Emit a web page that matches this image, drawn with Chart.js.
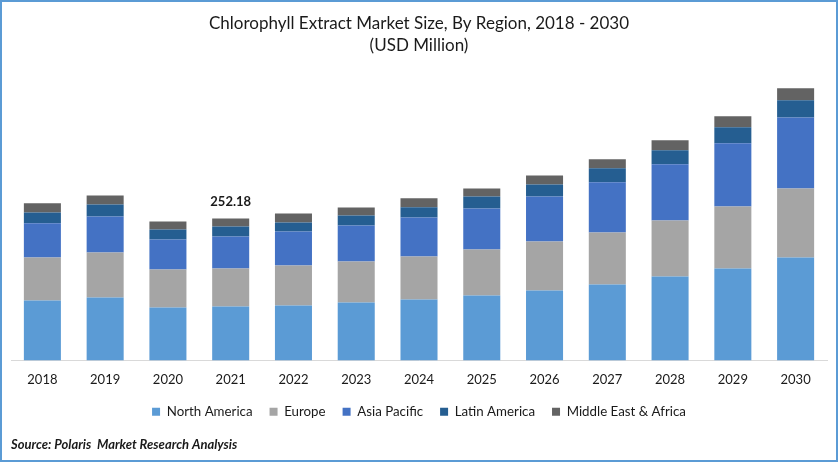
<!DOCTYPE html>
<html>
<head>
<meta charset="utf-8">
<title>Chlorophyll Extract Market Size</title>
<script src="https://cdn.jsdelivr.net/npm/chart.js@4"></script>
<style>
    body { margin: 0; background: #fff; }
    #quadro { width: 834px; height: 458px; border: 2px solid #5b9bd5; }
    canvas { display: block; }
</style>
</head>
<body>
<div id="quadro"><canvas id="grafico" width="834" height="458"></canvas></div>
<script>
const anos = ['2018', '2019', '2020', '2021', '2022', '2023', '2024', '2025', '2026', '2027', '2028', '2029', '2030'];
const northAmerica = [106.6, 111.9, 94.1, 95.9, 97.7, 103.0, 108.3, 115.4, 124.3, 135.0, 149.2, 163.4, 182.9];
const europe = [76.4, 79.9, 67.5, 67.5, 71.0, 72.8, 76.4, 81.7, 87.0, 92.4, 99.5, 110.1, 122.5];
const asiaPacific = [60.4, 63.9, 53.3, 56.8, 60.4, 63.9, 69.3, 72.8, 79.9, 88.8, 99.5, 111.9, 126.1];
const latinAmerica = [19.5, 21.3, 17.8, 17.8, 16.0, 17.8, 17.8, 21.3, 21.3, 24.9, 24.9, 28.4, 30.2];
const middleEast = [16.0, 16.0, 14.2, 14.18, 16.0, 14.2, 16.0, 14.2, 16.0, 16.0, 17.8, 19.5, 21.3];
const rotuloTotal = '252.18';
const anoRotulo = '2021';

const fonte = 'Lato';
const corTexto = '#1a1a1a';

function serie(label, data, cor) {
    return { label, data, backgroundColor: cor, barPercentage: 0.59, categoryPercentage: 1 };
}

// escreve o total em cima da barra de 2021
const rotuloBarra = {
    id: 'rotuloBarra',
    afterDatasetsDraw(chart) {
        const i = anos.indexOf(anoRotulo);
        const topo = chart.getDatasetMeta(chart.data.datasets.length - 1).data[i];
        const ctx = chart.ctx;
        ctx.save();
        ctx.font = `bold 13px ${fonte}`;
        ctx.fillStyle = corTexto;
        ctx.textAlign = 'center';
        ctx.textBaseline = 'bottom';
        ctx.fillText(rotuloTotal, topo.x, topo.y - 10);
        ctx.restore();
    }
};

new Chart(document.getElementById('grafico'), {
    type: 'bar',
    data: {
        labels: anos,
        datasets: [
            serie('North America', northAmerica, '#5b9bd5'),
            serie('Europe', europe, '#a5a5a5'),
            serie('Asia Pacific', asiaPacific, '#4472c4'),
            serie('Latin America', latinAmerica, '#255e91'),
            serie('Middle East & Africa', middleEast, '#636363')
        ]
    },
    options: {
        responsive: false,
        animation: false,
        devicePixelRatio: 1,
        layout: { padding: { left: 9, right: 9, top: 10, bottom: 7 } },
        plugins: {
            title: {
                display: true,
                text: ['Chlorophyll Extract Market Size, By Region, 2018 - 2030', '(USD Million)'],
                color: corTexto,
                font: { family: fonte, size: 17, weight: 'normal', lineHeight: 1.3 },
                padding: { top: 0, bottom: 4 }
            },
            subtitle: {
                display: true,
                position: 'bottom',
                align: 'start',
                text: 'Source: Polaris  Market Research Analysis',
                color: corTexto,
                font: { family: fonte, size: 13, weight: 'bold', style: 'italic' },
                padding: { top: 9, bottom: 0 }
            },
            legend: {
                position: 'bottom',
                labels: {
                    boxWidth: 8,
                    boxHeight: 8,
                    padding: 17,
                    color: corTexto,
                    font: { family: fonte, size: 13.3 }
                }
            },
            tooltip: { enabled: false }
        },
        scales: {
            x: {
                stacked: true,
                grid: { display: false },
                border: { color: '#d9d9d9' },
                ticks: { color: corTexto, font: { family: fonte, size: 13 }, padding: 4 },
                afterFit(scale) { scale.height -= 4; }
            },
            y: {
                stacked: true,
                display: false,
                min: 0,
                max: 533
            }
        }
    },
    plugins: [rotuloBarra]
});
</script>
</body>
</html>
